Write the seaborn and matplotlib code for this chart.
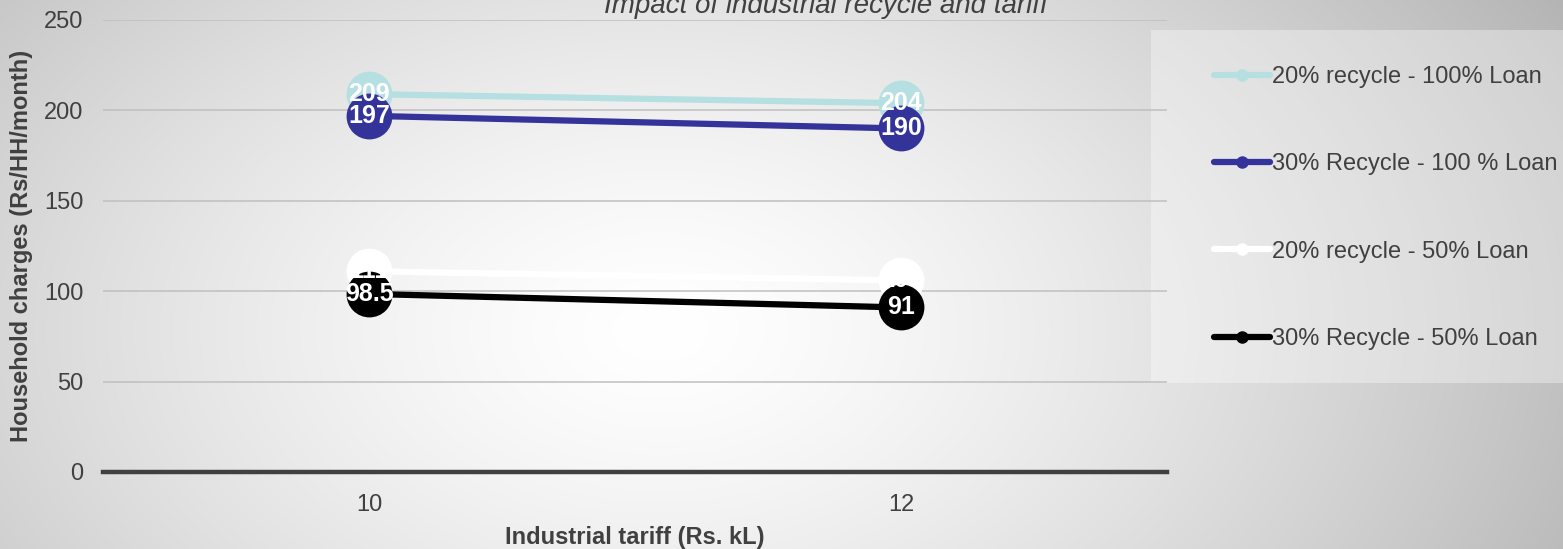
import numpy as np
import pandas as pd
import matplotlib
matplotlib.use("Agg")
import matplotlib.pyplot as plt
from matplotlib.lines import Line2D
from matplotlib.patches import Rectangle
import seaborn as sns

# Chart data
tariffs = ["10", "12"]
scenarios = [
    "20% recycle - 100% Loan",
    "30% Recycle - 100 % Loan",
    "20% recycle - 50% Loan",
    "30% Recycle - 50% Loan",
]
recycle20_loan100 = [209, 204]
recycle30_loan100 = [197, 190]
recycle20_loan50 = [111, 106]
recycle30_loan50 = [98.5, 91]
series_values = [recycle20_loan100, recycle30_loan100, recycle20_loan50, recycle30_loan50]
colors = ["#b6dfe2", "#333399", "#ffffff", "#000000"]

title = "Impact of industrial recycle and tariff"
x_label = "Industrial tariff (Rs. kL)"
y_label = "Household charges (Rs/HH/month)"
y_ticks = [0, 50, 100, 150, 200, 250]

rows = []
for name, vals in zip(scenarios, series_values):
    for t, v in zip(tariffs, vals):
        rows.append({"tariff": t, "charge": v, "scenario": name})
df = pd.DataFrame(rows)

sns.set_theme(style="white")
plt.rcParams["font.family"] = ["Liberation Sans", "DejaVu Sans"]
text_color = "#404040"
fs = 17

W, H, DPI = 1563, 549, 100
fig = plt.figure(figsize=(W / DPI, H / DPI), dpi=DPI)

# radial grey-to-white backdrop
bg = fig.add_axes([0, 0, 1, 1], zorder=-10)
yy, xx = np.mgrid[0:H, 0:W]
d = np.sqrt(((xx - 660) / 950.0) ** 2 + ((yy - 330) / 620.0) ** 2)
shade = 1.0 - 0.26 * np.clip(d, 0, 1.25) ** 1.4
bg.imshow(np.dstack([shade] * 3), aspect="auto", extent=[0, 1, 0, 1], origin="upper")
bg.set_axis_off()

# lighter panel behind the legend
fig.patches.append(Rectangle((1151 / W, 1 - 383 / H), (W - 1151) / W, (383 - 30) / H,
                             transform=fig.transFigure, facecolor="white", alpha=0.35,
                             edgecolor="none", zorder=-5))

ax = fig.add_axes([103 / W, 1 - 472 / H, (1167 - 103) / W, (472 - 20) / H])
ax.set_facecolor("none")

sns.lineplot(data=df, x="tariff", y="charge", hue="scenario", hue_order=scenarios,
             palette=colors, marker="o", markersize=33, markeredgewidth=0,
             linewidth=4.5, sort=False, legend=False, ax=ax, zorder=3)

# value labels on top of every marker
for vals in series_values:
    for i, v in enumerate(vals):
        ax.text(i, v, f"{v:g}", ha="center", va="center", color="white",
                fontsize=18, fontweight="bold", zorder=10)

ax.set_xlim(-0.5, 1.5)
ax.set_ylim(0, 250)
ax.set_yticks(y_ticks)
ax.yaxis.grid(True, color="#bfbfbf", linewidth=1.1, zorder=0)
ax.set_axisbelow(True)
for s in ["top", "right", "left"]:
    ax.spines[s].set_visible(False)
ax.spines["bottom"].set_color(text_color)
ax.spines["bottom"].set_linewidth(3.2)
ax.tick_params(axis="both", length=0, labelsize=fs, labelcolor=text_color)
ax.tick_params(axis="x", pad=16)
ax.tick_params(axis="y", pad=14)
ax.set_xlabel(x_label, fontsize=fs, fontweight="bold", color=text_color, labelpad=7)
ax.set_ylabel(y_label, fontsize=fs, fontweight="bold", color=text_color, labelpad=8)

fig.text(826 / W, 1 - 13 / H, title, ha="center", va="baseline", fontsize=20,
         style="italic", color=text_color)

handles = [Line2D([0], [0], color=c, linewidth=4.5, marker="o", markersize=9,
                  markeredgewidth=0) for c in colors]
leg = fig.legend(handles, scenarios, loc="upper left",
                 bbox_to_anchor=(1202 / W, 1 - 54 / H), frameon=False,
                 fontsize=fs, labelcolor=text_color, handlelength=2.4,
                 handletextpad=0.05, labelspacing=2.77, borderpad=0)

fig.savefig("out.png", dpi=DPI)
